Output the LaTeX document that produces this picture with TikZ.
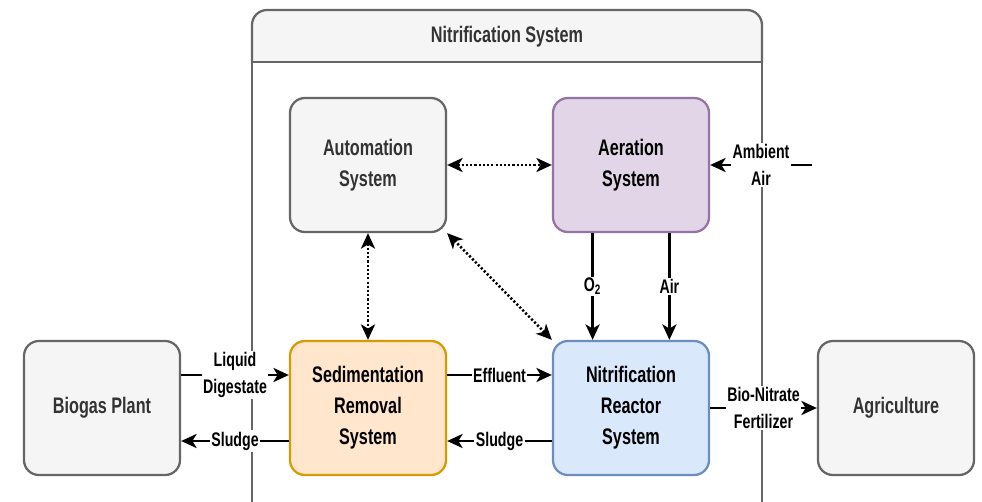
\documentclass[tikz,border=0pt]{standalone}
\usepackage{fontspec}
\setmainfont{Liberation Sans}[FakeStretch=0.72]
\usetikzlibrary{arrows.meta}

\definecolor{boxgray}{HTML}{F5F5F5}
\definecolor{linegray}{HTML}{666666}
\definecolor{textgray}{HTML}{333333}
\definecolor{aerfill}{HTML}{E1D5E7}
\definecolor{aerline}{HTML}{9673A6}
\definecolor{sedfill}{HTML}{FFE6CC}
\definecolor{sedline}{HTML}{D79B00}
\definecolor{reafill}{HTML}{DAE8FC}
\definecolor{realine}{HTML}{6C8EBF}

\tikzset{
  block/.style={draw=#1, line width=1.6pt, rounded corners=0.375cm,
    minimum width=3.9cm, minimum height=3.35cm, align=center,
    font=\fontsize{16}{22}\selectfont\bfseries},
  graybox/.style={block=linegray, fill=boxgray, text=textgray},
  purplebox/.style={block=aerline, fill=aerfill},
  orangebox/.style={block=sedline, fill=sedfill},
  bluebox/.style={block=realine, fill=reafill},
  contline/.style={draw=linegray, line width=1.6pt},
  titletext/.style={text=textgray, font=\fontsize{16}{22}\selectfont\bfseries},
  flow/.style={line width=1.8pt, -{Stealth[length=11pt,width=10pt,inset=3pt]}},
  link/.style={line width=1.8pt, dash pattern=on 1.5pt off 1.5pt,
    {Stealth[length=11pt,width=10pt,inset=3pt]}-{Stealth[length=11pt,width=10pt,inset=3pt]}},
  elabel/.style={fill=white, inner sep=1pt, align=center,
    font=\fontsize{14}{19.5}\selectfont\bfseries}
}

\begin{document}
\begin{tikzpicture}[x=0.025cm, y=-0.025cm]
\useasboundingbox (0,0) rectangle (982,501);

% container
\filldraw[contline, fill=boxgray, rounded corners=0.375cm] (252,62) -- (252,10) -- (762,10) -- (762,62);
\draw[contline] (252,62) -- (762,62);
\draw[contline] (252,62) -- (252,520);
\draw[contline] (762,62) -- (762,520);
\node[titletext] (title) at (507,37) {Nitrification System};

% blocks
\node[graybox] (auto) at (368,165) {Automation\\System};
\node[purplebox] (aer) at (631,165) {Aeration\\System};
\node[orangebox] (sed) at (368,408) {Sedimentation\\Removal\\System};
\node[bluebox] (reactor) at (631,408) {Nitrification\\Reactor\\System};
\node[graybox] (biogas) at (102,408) {Biogas Plant};
\node[graybox] (agri) at (896,408) {Agriculture};
\coordinate (ambient) at (812,165);

% flows
\draw[flow] ([yshift=0.825cm]biogas.east) -- ([yshift=0.825cm]sed.west)
  node[midway, elabel] (lblliquid) {Liquid\\Digestate};
\draw[flow] ([yshift=-0.825cm]sed.west) -- ([yshift=-0.825cm]biogas.east)
  node[midway, elabel] (lblsludgeb) {Sludge};
\draw[flow] ([yshift=0.825cm]sed.east) -- ([yshift=0.825cm]reactor.west)
  node[midway, elabel] (lbleffluent) {Effluent};
\draw[flow] ([yshift=-0.825cm]reactor.west) -- ([yshift=-0.825cm]sed.east)
  node[midway, elabel] (lblsludger) {Sludge};
\draw[flow] (reactor.east) -- (agri.west)
  node[midway, elabel] (lblfert) {Bio-Nitrate\\Fertilizer};
\draw[flow] ([xshift=-0.96cm]aer.south) -- ([xshift=-0.96cm]reactor.north)
  node[midway, elabel] (lbloxygen) {O\textsubscript{2}};
\draw[flow] ([xshift=0.96cm]aer.south) -- ([xshift=0.96cm]reactor.north)
  node[midway, elabel] (lblair) {Air};
\draw[flow] (ambient) -- (aer.east)
  node[midway, elabel] (lblambient) {Ambient\\Air};

% control links
\draw[link] (auto.east) -- (aer.west);
\draw[link] (auto.south) -- (sed.north);
\draw[link] (auto.south east) -- (reactor.north west);
\end{tikzpicture}
\end{document}
